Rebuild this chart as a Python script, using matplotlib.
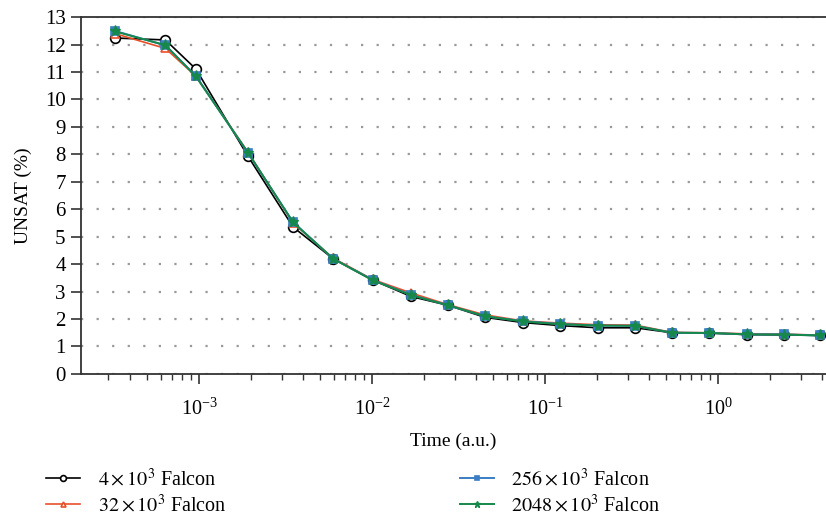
import numpy as np
import matplotlib
matplotlib.use("Agg")
import matplotlib.pyplot as plt

plt.rcParams["font.family"] = ["Liberation Serif", "DejaVu Serif"]
plt.rcParams["mathtext.fontset"] = "stix"

# time points (a.u.)
time = [3.27e-4, 6.4e-4, 9.6e-4, 1.92e-3, 3.5e-3, 5.95e-3, 0.0101, 0.0168,
        0.0275, 0.045, 0.0746, 0.122, 0.202, 0.331, 0.542, 0.887, 1.47,
        2.41, 3.89]

# UNSAT (%) per population size
unsat_4k = [12.24, 12.17, 11.11, 7.93, 5.35, 4.20, 3.42, 2.82, 2.50, 2.06,
            1.87, 1.76, 1.68, 1.68, 1.50, 1.49, 1.43, 1.42, 1.40]
unsat_32k = [12.40, 11.86, 10.85, 8.08, 5.50, 4.22, 3.44, 2.95, 2.52, 2.15,
             1.93, 1.85, 1.79, 1.78, 1.51, 1.50, 1.46, 1.45, 1.41]
unsat_256k = [12.50, 11.97, 10.86, 8.05, 5.53, 4.20, 3.42, 2.88, 2.50, 2.10,
              1.92, 1.82, 1.76, 1.75, 1.50, 1.49, 1.44, 1.44, 1.40]
unsat_2048k = [12.48, 11.98, 10.84, 8.06, 5.52, 4.20, 3.41, 2.87, 2.50, 2.10,
               1.91, 1.81, 1.76, 1.75, 1.50, 1.49, 1.44, 1.43, 1.40]

labels = [r"$4\times10^3$ Falcon", r"$32\times10^3$ Falcon",
          r"$256\times10^3$ Falcon", r"$2048\times10^3$ Falcon"]

fig = plt.figure(figsize=(8.26, 5.2), dpi=100)
ax = fig.add_axes([0.098, 0.281, 0.902, 0.686])

ax.plot(time, unsat_4k, color="black", lw=1.2, marker="o", ms=7,
        mfc="white", mec="black", mew=1.2, label=labels[0], zorder=3)
ax.plot(time, unsat_32k, color="#e8502a", lw=1.2, marker="^", ms=6,
        mfc="white", mec="#e8502a", mew=1.2, label=labels[1], zorder=4)
ax.plot(time, unsat_256k, color="#3a7ec4", lw=1.4, marker="s", ms=6,
        mfc="#3a7ec4", mec="#3a7ec4", mew=1.2, label=labels[2], zorder=5)
ax.plot(time, unsat_2048k, color="#15884a", lw=1.4, marker="*", ms=8,
        mfc="#15884a", mec="#15884a", mew=1.0, label=labels[3], zorder=6)

ax.set_xscale("log")
ax.set_xlim(2.08e-4, 4.2)
ax.set_ylim(0, 13)
ax.set_yticks(range(0, 14))

ax.grid(axis="y", which="major", color="#999999", linestyle=(0, (1, 6)), lw=1.6)
ax.grid(axis="x", which="both", visible=False)
ax.set_axisbelow(True)

for s in ["left", "bottom", "top"]:
    ax.spines[s].set_color("#333333")
    ax.spines[s].set_linewidth(1.3)
ax.spines["right"].set_visible(False)

ax.tick_params(axis="both", which="major", direction="out", length=7,
               width=1.2, color="#333333")
ax.tick_params(axis="y", labelsize=15, pad=4)
ax.tick_params(axis="x", labelsize=14.5, pad=11)
ax.tick_params(axis="x", which="minor", direction="out", length=4,
               width=1.0, color="#333333")

ax.set_xlabel("Time (a.u.)", fontsize=14, labelpad=9)
ax.set_ylabel("UNSAT (%)", fontsize=14, labelpad=9)

h, l = ax.get_legend_handles_labels()
fig.legend(h, l, ncol=2, loc="lower left", bbox_to_anchor=(0.034, -0.028),
           frameon=False, fontsize=14.5, handlelength=1.7, handletextpad=0.85,
           columnspacing=11.6, labelspacing=0.2, markerscale=0.6)

fig.savefig("out.png", dpi=100)
